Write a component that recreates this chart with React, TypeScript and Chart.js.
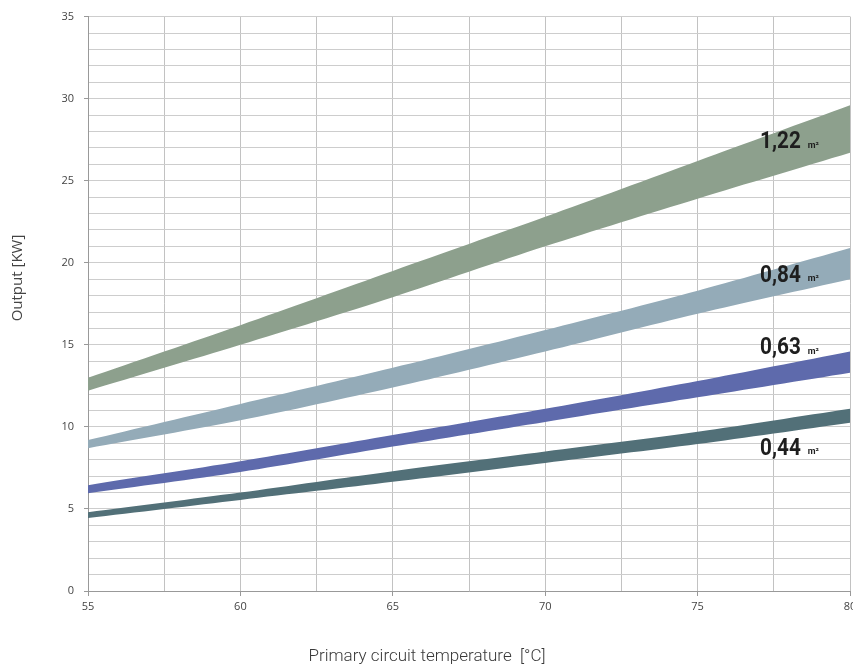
import React, { useEffect, useRef } from "react";
import { Chart, registerables } from "chart.js";

Chart.register(...registerables);

const temps = [55, 60, 65, 70, 75, 80];
const upper122 = [13.0, 16.2, 19.5, 22.8, 26.2, 29.6];
const lower122 = [12.2, 15.0, 17.9, 21.0, 23.9, 26.7];
const upper084 = [9.2, 11.4, 13.6, 15.9, 18.3, 20.9];
const lower084 = [8.7, 10.4, 12.4, 14.6, 16.9, 19.0];
const upper063 = [6.45, 7.9, 9.5, 11.1, 12.8, 14.6];
const lower063 = [5.95, 7.25, 8.8, 10.3, 11.8, 13.3];
const upper044 = [4.8, 6.0, 7.3, 8.5, 9.7, 11.1];
const lower044 = [4.45, 5.55, 6.65, 7.8, 8.95, 10.25];

const areaLabels = ["1,22", "0,84", "0,63", "0,44"];
const labelYValues = [27.4, 19.25, 14.85, 8.7];
const labelXValue = 77.05;

const bandColors = [
  "rgb(141,160,141)",
  "rgb(148,171,184)",
  "rgb(94,106,172)",
  "rgb(82,112,120)",
];

const pts = (ys: number[]) => temps.map((t, i) => ({ x: t, y: ys[i] }));

export default function App() {
  const ref = useRef<HTMLCanvasElement | null>(null);
  useEffect(() => {
    document.body.style.margin = "0";
    const canvas = ref.current!;
    const bands = [
      [upper122, lower122],
      [upper084, lower084],
      [upper063, lower063],
      [upper044, lower044],
    ];
    const datasets: any[] = [];
    bands.forEach(([u, l], i) => {
      datasets.push({
        data: pts(u),
        borderWidth: 0,
        borderColor: "rgba(0,0,0,0)",
        backgroundColor: bandColors[i],
        pointRadius: 0,
        fill: "+1",
        tension: 0.3,
      });
      datasets.push({
        data: pts(l),
        borderWidth: 0,
        borderColor: "rgba(0,0,0,0)",
        backgroundColor: bandColors[i],
        pointRadius: 0,
        fill: false,
        tension: 0.3,
      });
    });

    const textPlugin = {
      id: "texts",
      afterDatasetsDraw(chart: any) {
        const ctx = chart.ctx;
        const xs = chart.scales.x;
        const ys = chart.scales.y;
        ctx.save();
        ctx.fillStyle = "#1e1e1e";
        ctx.textBaseline = "middle";
        areaLabels.forEach((t, i) => {
          const px = xs.getPixelForValue(labelXValue);
          const py = ys.getPixelForValue(labelYValues[i]);
          ctx.save();
          ctx.translate(px, py);
          ctx.scale(0.9, 1);
          ctx.font = "bold 23px Roboto, sans-serif";
          ctx.textAlign = "left";
          ctx.fillText(t, 0, 1);
          const w = ctx.measureText(t).width * 0.9;
          ctx.restore();
          ctx.font = "bold 9px Roboto, sans-serif";
          ctx.textAlign = "left";
          ctx.fillText("m²", px + w + 7, py + 4);
        });
        // axis titles
        ctx.fillStyle = "#3a3a3a";
        ctx.font = "300 17px Roboto, sans-serif";
        ctx.textAlign = "center";
        ctx.fillText("Primary circuit temperature  [°C]", 427, 657);
        ctx.translate(18, 278);
        ctx.rotate(-Math.PI / 2);
        ctx.font = "15px 'Open Sans', sans-serif";
        ctx.fillStyle = "#444";
        ctx.fillText("Output [KW]", 0, 0);
        ctx.restore();
      },
    };

    const chart = new Chart(canvas, {
      type: "line",
      data: { datasets },
      options: {
        animation: false,
        responsive: false,
        devicePixelRatio: 1,
        layout: { padding: { left: 0, right: 30, top: 15, bottom: 0 } },
        plugins: {
          legend: { display: false },
          tooltip: { enabled: false },
          filler: { propagate: false },
        },
        scales: {
          x: {
            type: "linear",
            min: 55,
            max: 80,
            ticks: {
              stepSize: 2.5,
              autoSkip: false,
              maxRotation: 0,
              color: "#444",
              font: { family: "'Open Sans', sans-serif", size: 11 },
              padding: 4,
              callback: (v: any) => (Number(v) % 5 === 0 ? String(v) : ""),
            },
            grid: {
              color: "#c2c2c2",
              lineWidth: 1,
              tickLength: 5,
              tickColor: (c: any) =>
                c.tick && c.tick.value % 5 === 0 ? "#999" : "rgba(0,0,0,0)",
            },
            border: { color: "#999", width: 1 },
            afterFit: (s: any) => {
              s.height = 80;
            },
          },
          y: {
            min: 0,
            max: 35,
            ticks: {
              stepSize: 1,
              autoSkip: false,
              color: "#444",
              font: { family: "'Open Sans', sans-serif", size: 11 },
              padding: 10,
              callback: (v: any) => (Number(v) % 5 === 0 ? String(v) : ""),
            },
            grid: {
              color: "#cdcdcd",
              lineWidth: 1,
              tickLength: 4,
              tickColor: (c: any) =>
                c.tick && c.tick.value % 5 === 0 ? "#999" : "rgba(0,0,0,0)",
            },
            border: { color: "#999", width: 1 },
            afterFit: (s: any) => {
              s.width = 88;
            },
          },
        },
      },
      plugins: [textPlugin],
    });
    return () => chart.destroy();
  }, []);

  return (
    <div style={{ width: 853, height: 671, overflow: "hidden", position: "relative", background: "#fff" }}>
      <canvas ref={ref} width={880} height={671} style={{ display: "block" }} />
    </div>
  );
}
